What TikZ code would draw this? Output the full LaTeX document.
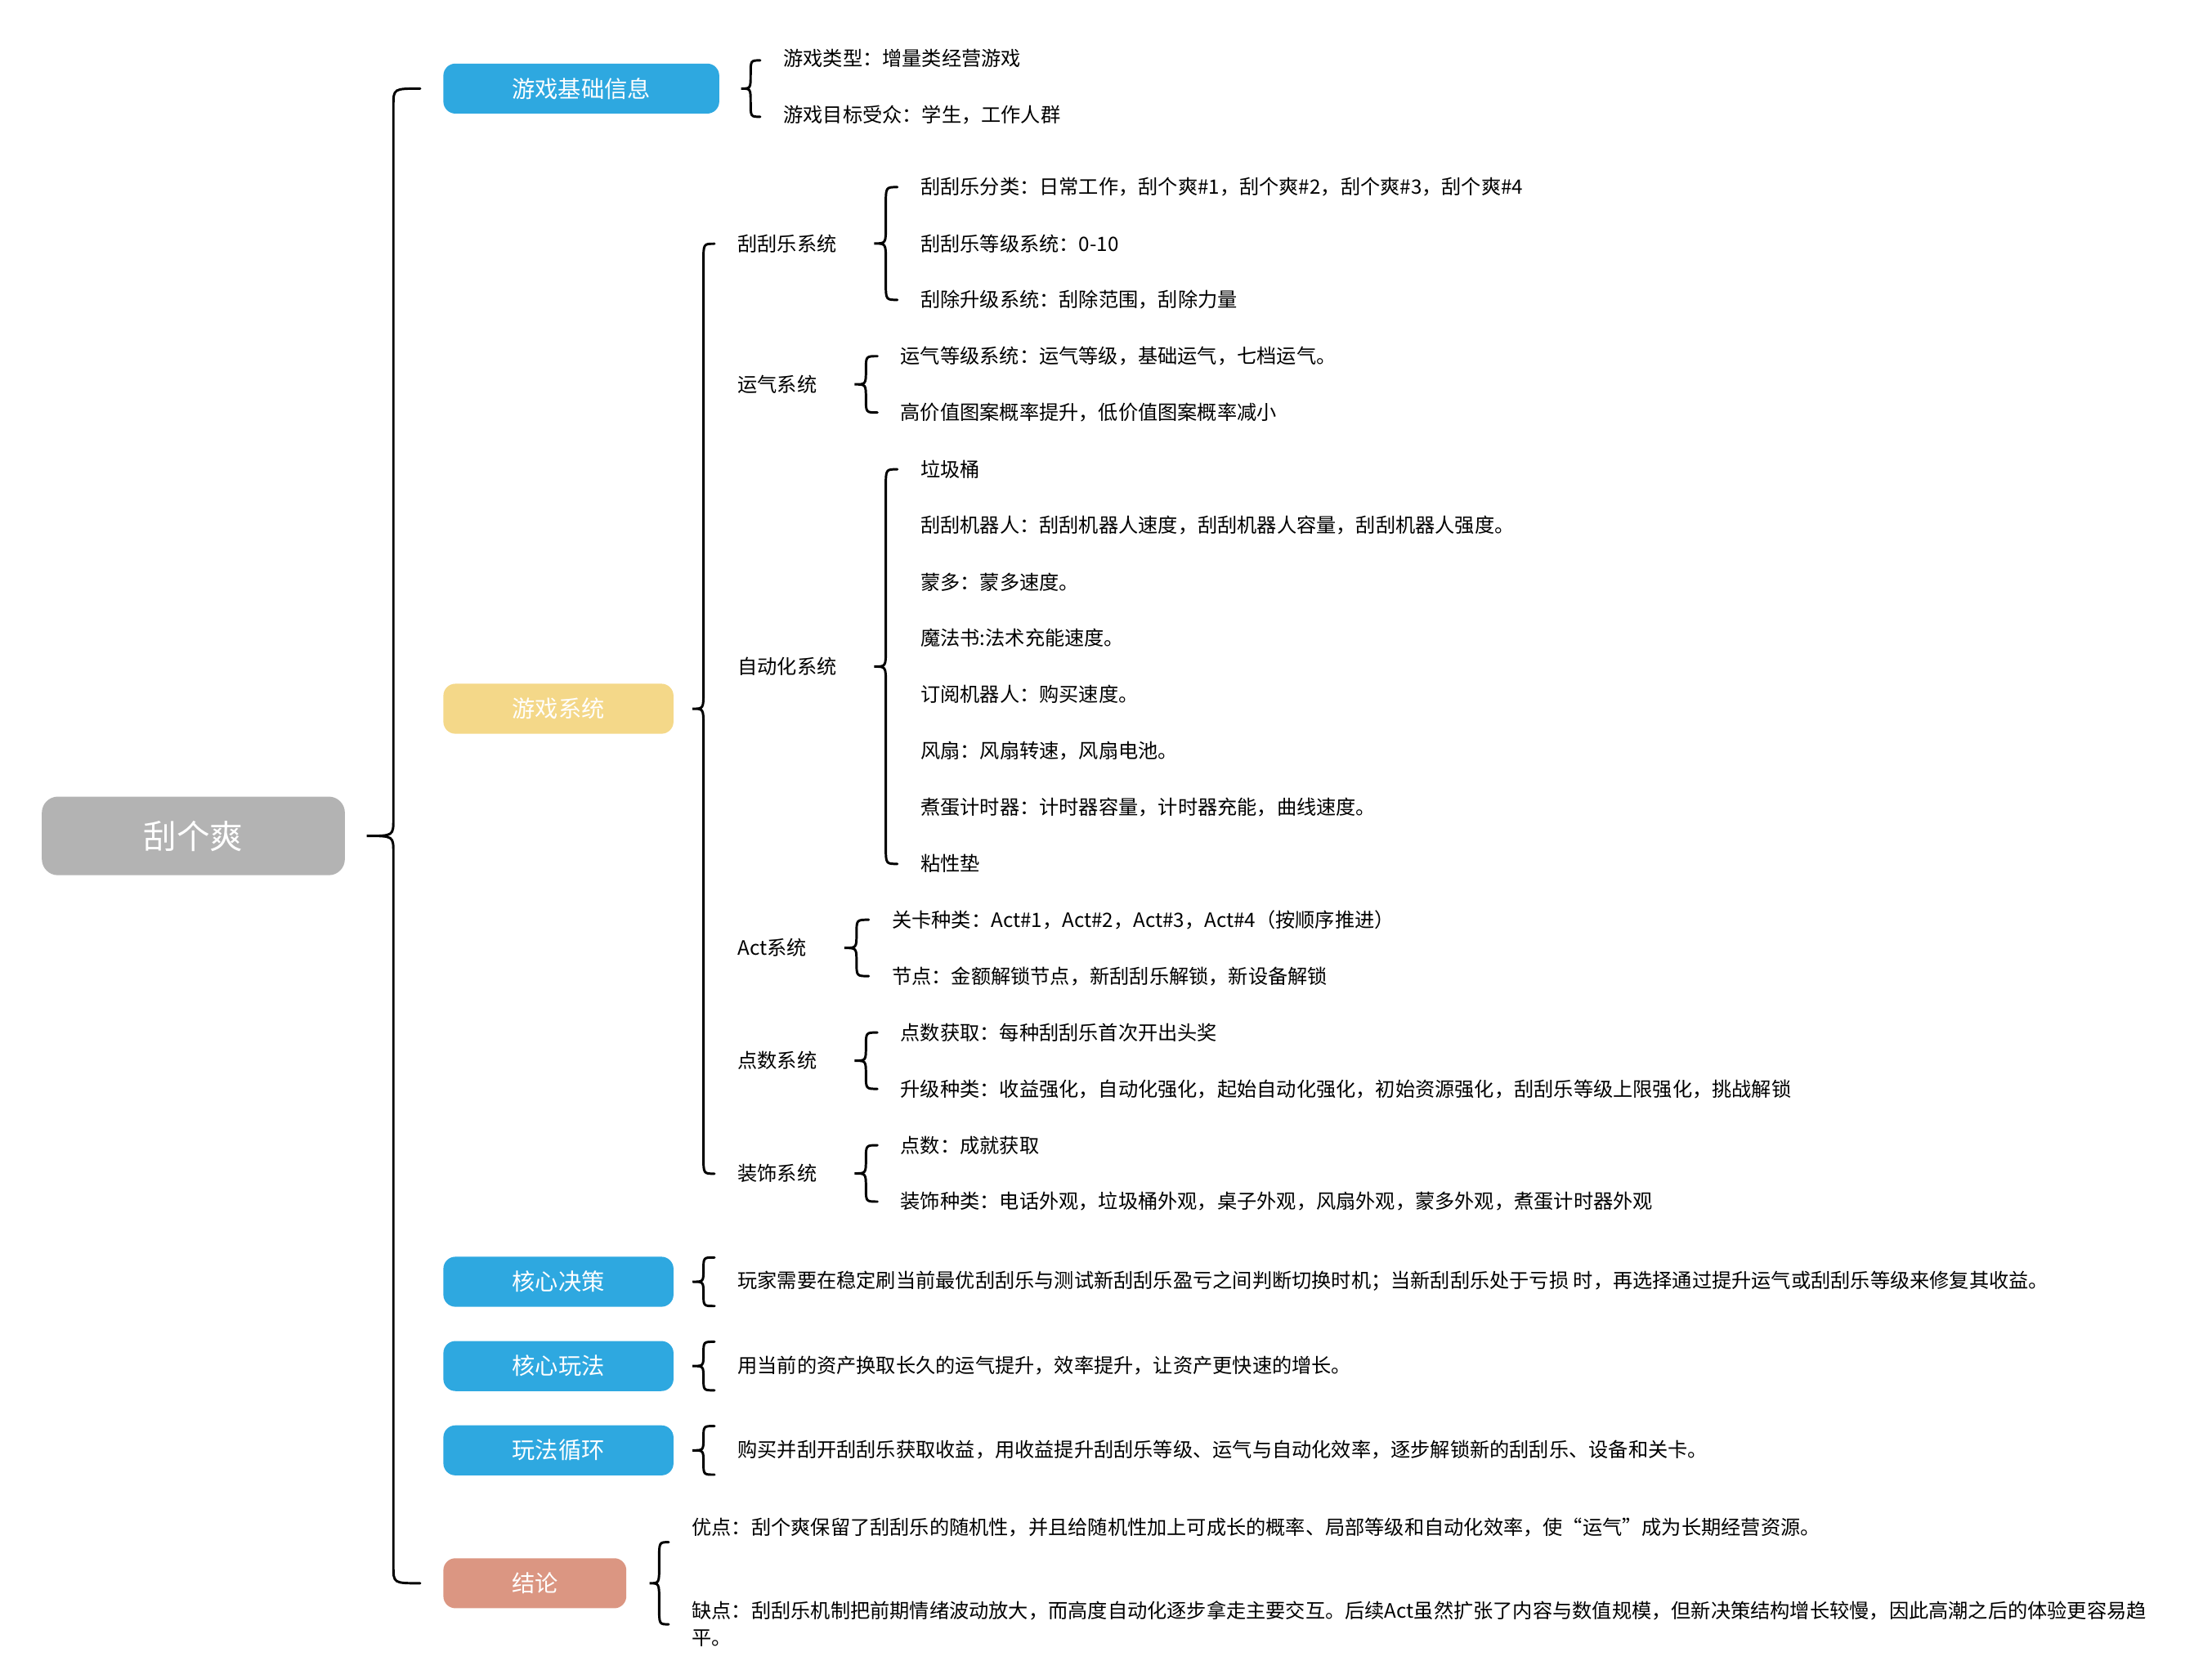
\documentclass[tikz,border=0pt]{standalone}
\usepackage{fontspec}
\setmainfont{Noto Sans CJK SC}
\usepackage{tikz}
\usetikzlibrary{positioning,calc}
\definecolor{topicblue}{HTML}{2EA8E0}
\definecolor{topicyellow}{HTML}{F4D889}
\definecolor{rootgray}{HTML}{B3B3B3}
\definecolor{topicsalmon}{HTML}{DB9682}
\newcommand{\pxlen}{0.7113}
\newcommand{\curlyr}{8.5pt}
\newcommand{\curly}[5]{%
  \draw[curlyline] let \p1=($(#1.east)+(#4,0)$), \p2=($(#2.west)+(-16,0)$), \p3=(#3.west),
    \n1={0.5*abs(\y2-\y3)+(#5)*\pxlen}, \n2={0.5*(\x1+\x2)}, \n3={min(\curlyr,0.5*\n1)}
  in (\x2,\y1+\n1) .. controls (\n2,\y1+\n1) .. (\n2,\y1+\n1-\n3)
  -- (\n2,\y1+\n3) .. controls (\n2,\y1) .. (\x1,\y1)
  .. controls (\n2,\y1) .. (\n2,\y1-\n3)
  -- (\n2,\y1-\n1+\n3) .. controls (\n2,\y1-\n1) .. (\x2,\y1-\n1);}
\tikzset{
  rootbox/.style={fill=rootgray, text=white, rounded corners=8pt, minimum width=5.3cm, minimum height=1.375cm, anchor=west, font=\fontsize{16.5}{20}\selectfont},
  topic/.style={fill=#1, text=white, rounded corners=6pt, minimum width=4.025cm, minimum height=0.875cm, anchor=west, font=\fontsize{11.5}{14}\selectfont},
  leaf/.style={anchor=west, inner sep=0pt, font=\fontsize{9.85}{13.5}\selectfont},
  nextrow/.style={below=0.986cm of #1.west, anchor=west},
  curlyline/.style={line width=1.2pt, line cap=round}
}

\begin{document}
\begin{tikzpicture}[x=0.025cm, y=-0.025cm]
\useasboundingbox (0,0) rectangle (1548,1175);
\node[rootbox] (root) at (29,585) {刮个爽};
\node[topic=topicblue, minimum width=4.825cm] (info) at (310,62) {游戏基础信息};
\node[topic=topicyellow] (sys) at (310,496) {游戏系统};
\node[topic=topicblue] (decide) at (310,897) {核心决策};
\node[topic=topicblue] (play) at (310,956) {核心玩法};
\node[topic=topicblue] (playloop) at (310,1015) {玩法循环};
\node[topic=topicsalmon, minimum width=3.2cm] (concl) at (310,1108) {结论};

\node[leaf] (type) at (548,41) {游戏类型：增量类经营游戏};
\node[leaf, nextrow=type] (aud) {游戏目标受众：学生，工作人群};

\node[leaf] (scratch) at (516,170.4) {刮刮乐系统};
\node[leaf] (luck) at (516,269) {运气系统};
\node[leaf] (auto) at (516,466.5) {自动化系统};
\node[leaf] (act) at (516,663.4) {Act系统};
\node[leaf] (points) at (516,742.3) {点数系统};
\node[leaf] (deco) at (516,821.2) {装饰系统};

\node[leaf] (sc1) at (644,131) {刮刮乐分类：日常工作，刮个爽\#1，刮个爽\#2，刮个爽\#3，刮个爽\#4};
\node[leaf, nextrow=sc1] (sc2) {刮刮乐等级系统：0-10};
\node[leaf, nextrow=sc2] (sc3) {刮除升级系统：刮除范围，刮除力量};
\node[leaf] (lk1) at (630,249.3) {运气等级系统：运气等级，基础运气，七档运气。};
\node[leaf, nextrow=lk1] (lk2) {高价值图案概率提升，低价值图案概率减小};
\node[leaf] (au1) at (644,328.3) {垃圾桶};
\node[leaf, nextrow=au1] (au2) {刮刮机器人：刮刮机器人速度，刮刮机器人容量，刮刮机器人强度。};
\node[leaf, nextrow=au2] (au3) {蒙多：蒙多速度。};
\node[leaf, nextrow=au3] (au4) {魔法书:法术充能速度。};
\node[leaf, nextrow=au4] (au5) {订阅机器人：购买速度。};
\node[leaf, nextrow=au5] (au6) {风扇：风扇转速，风扇电池。};
\node[leaf, nextrow=au6] (au7) {煮蛋计时器：计时器容量，计时器充能，曲线速度。};
\node[leaf, nextrow=au7] (au8) {粘性垫};
\node[leaf] (ac1) at (624,643.7) {关卡种类：Act\#1，Act\#2，Act\#3，Act\#4（按顺序推进）};
\node[leaf, nextrow=ac1] (ac2) {节点：金额解锁节点，新刮刮乐解锁，新设备解锁};
\node[leaf] (pt1) at (630,722.6) {点数获取：每种刮刮乐首次开出头奖};
\node[leaf, nextrow=pt1] (pt2) {升级种类：收益强化，自动化强化，起始自动化强化，初始资源强化，刮刮乐等级上限强化，挑战解锁};
\node[leaf] (dc1) at (630,801.5) {点数：成就获取};
\node[leaf, nextrow=dc1] (dc2) {装饰种类：电话外观，垃圾桶外观，桌子外观，风扇外观，蒙多外观，煮蛋计时器外观};

\node[leaf] (decidetxt) at (516,896.5) {玩家需要在稳定刷当前最优刮刮乐与测试新刮刮乐盈亏之间判断切换时机；当新刮刮乐处于亏损 时，再选择通过提升运气或刮刮乐等级来修复其收益。};
\node[leaf] (playtxt) at (516,955.5) {用当前的资产换取长久的运气提升，效率提升，让资产更快速的增长。};
\node[leaf] (looptxt) at (516,1014.5) {购买并刮开刮刮乐获取收益，用收益提升刮刮乐等级、运气与自动化效率，逐步解锁新的刮刮乐、设备和关卡。};
\node[leaf] (pro) at (484,1069) {优点：刮个爽保留了刮刮乐的随机性，并且给随机性加上可成长的概率、局部等级和自动化效率，使“运气”成为长期经营资源。};
\node[leaf, align=left] (con) at (484,1136.5) {缺点：刮刮乐机制把前期情绪波动放大，而高度自动化逐步拿走主要交互。后续Act虽然扩张了内容与数值规模，但新决策结构增长较慢，因此高潮之后的体验更容易趋\\平。};

\curly{root}{info}{concl}{15}{0}
\curly{info}{type}{aud}{15}{0}
\curly{sys}{scratch}{deco}{13}{0}
\curly{scratch}{sc1}{sc3}{26}{0}
\curly{luck}{lk1}{lk2}{26}{0}
\curly{auto}{au1}{au8}{26}{0}
\curly{act}{ac1}{ac2}{26}{0}
\curly{points}{pt1}{pt2}{26}{0}
\curly{deco}{dc1}{dc2}{26}{0}
\curly{decide}{decidetxt}{decidetxt}{13}{17}
\curly{play}{playtxt}{playtxt}{13}{17}
\curly{playloop}{looptxt}{looptxt}{13}{17}
\curly{concl}{pro}{con}{16}{-5}
\end{tikzpicture}
\end{document}
